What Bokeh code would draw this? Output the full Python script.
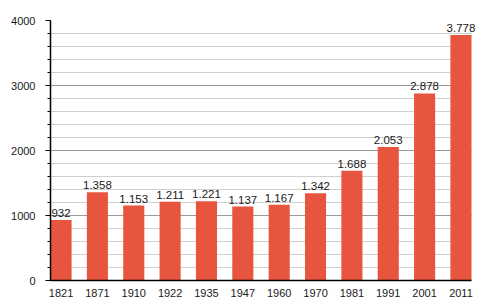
from bokeh.plotting import figure
from bokeh.models import ColumnDataSource, SingleIntervalTicker, FixedTicker, Range1d, LabelSet
from bokeh.core.properties import value
from bokeh.embed import file_html
from bokeh.resources import INLINE

years = ["1821", "1871", "1910", "1922", "1935", "1947", "1960", "1970", "1981", "1991", "2001", "2011"]
population = [932, 1358, 1153, 1211, 1221, 1137, 1167, 1342, 1688, 2053, 2878, 3778]
y_ticks = [0, 1000, 2000, 3000, 4000]

def fmt(v):
    return f"{v:,}".replace(",", ".")

xs = list(range(len(years)))
src = ColumnDataSource(dict(x=xs, top=population, label=[fmt(v) for v in population]))

BAR_W = 0.58
x0 = -BAR_W / 2
x1 = len(years) - 1 + BAR_W / 2
px_per_unit = 421 / (x1 - x0)
frame_w = 445
x_end = x0 + frame_w / px_per_unit

p = figure(width=500, height=300, output_backend="svg", toolbar_location=None,
           x_range=Range1d(x0, x_end),
           y_range=Range1d(0, 4000),
           min_border_left=50, min_border_right=5, min_border_top=20, min_border_bottom=20)
p.outline_line_color = None
p.background_fill_color = "white"

p.vbar(x="x", top="top", width=BAR_W, source=src, fill_color="#E8553E", line_color=None)
labels = LabelSet(x="x", y="top", text="label", source=src, text_align="center", text_baseline="bottom",
                  y_offset=3, text_font=value("Liberation Sans"), text_font_size=value("11.5px"),
                  text_color="#1a1a1a", level="overlay")
p.add_layout(labels)

# axes
p.xaxis.ticker = FixedTicker(ticks=xs)
p.xaxis.bounds = (x0, x1)
p.xaxis.major_label_overrides = {i: y for i, y in enumerate(years)}
p.xaxis.major_tick_line_color = None
p.xaxis.minor_tick_line_color = None
p.xaxis.axis_line_color = "black"
p.xaxis.axis_line_width = 1.5
p.xaxis.major_label_text_font = "Liberation Sans"
p.xaxis.major_label_text_font_size = "11px"
p.xaxis.major_label_text_color = "#1a1a1a"
p.xaxis.major_label_standoff = 2

p.yaxis.ticker = SingleIntervalTicker(interval=1000, num_minor_ticks=5)
p.yaxis.axis_line_color = "black"
p.yaxis.axis_line_width = 1.5
p.yaxis.major_tick_out = 5
p.yaxis.major_tick_in = 0
p.yaxis.minor_tick_out = 3
p.yaxis.minor_tick_in = 0
p.yaxis.major_tick_line_color = "black"
p.yaxis.minor_tick_line_color = "black"
p.yaxis.major_label_text_font = "Liberation Sans"
p.yaxis.major_label_text_font_size = "11px"
p.yaxis.major_label_text_color = "#1a1a1a"
p.yaxis.major_label_standoff = 10

p.xgrid.grid_line_color = None
p.ygrid.grid_line_color = "#9a9a9a"
p.ygrid.grid_line_width = 1
p.ygrid.minor_grid_line_color = "#d0d0d0"
p.ygrid.cross_bounds = (x0, x1)
p.ygrid.level = "underlay"

open("out.html", "w").write(file_html(p, INLINE))
